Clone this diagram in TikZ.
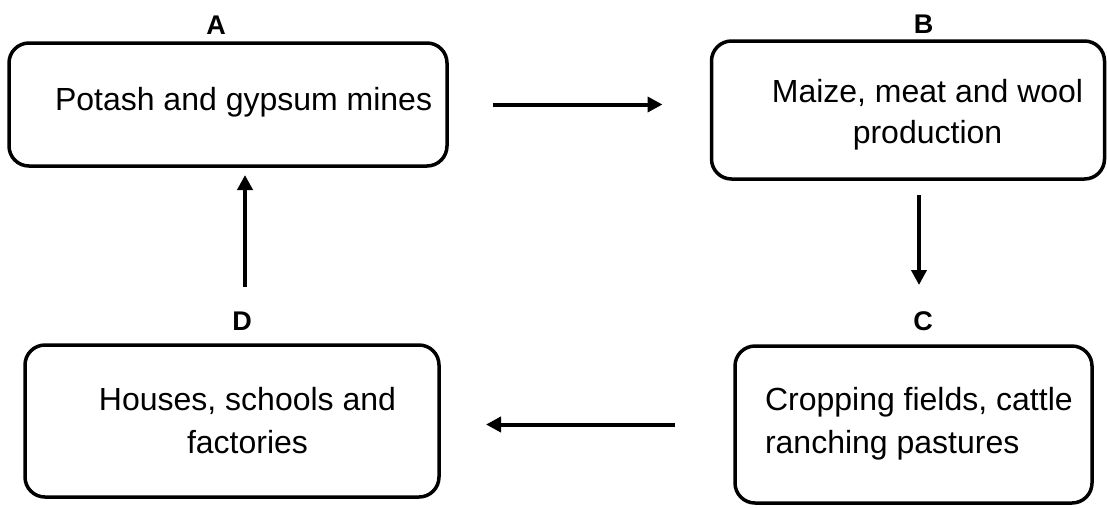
\documentclass[tikz,border=0pt]{standalone}
\usepackage{fontspec}
\setmainfont{Liberation Sans}
\usetikzlibrary{arrows.meta}
\tikzset{
  box/.style={draw=black, line width=3.5pt, rounded corners=20pt, inner sep=0pt, outer sep=0pt},
  txt/.style={inner sep=0pt, outer sep=0pt, font=\fontsize{32}{43}\selectfont},
  lbl/.style={inner sep=0pt, outer sep=0pt, anchor=base, font=\fontsize{27}{30}\selectfont\bfseries},
  arr/.style={line width=4pt, -{Triangle[length=15pt,width=15pt]}}
}
\begin{document}
\begin{tikzpicture}[x=1pt,y=-1pt]
\useasboundingbox (0,0) rectangle (1107,507);
% boxes
\node[box, minimum width=438pt, minimum height=123pt] (A) at (228,104.5) {};
\node[box, minimum width=393pt, minimum height=138pt] (B) at (908,110) {};
\node[box, minimum width=357pt, minimum height=157pt] (C) at (913.5,424.5) {};
\node[box, minimum width=414pt, minimum height=152pt] (D) at (232,421) {};
% labels
\node[lbl] (la) at (216,34) {A};
\node[lbl] (lb) at (923.5,33) {B};
\node[lbl] (lc) at (923,330) {C};
\node[lbl] (ld) at (242,330) {D};
% texts
\node[txt, anchor=base west] (ta) at (55,110) {Potash and gypsum mines};
\node[txt, anchor=base] (tb1) at (927.5,102) {Maize, meat and wool};
\node[txt, anchor=base] (tb2) at (927.5,143) {production};
\node[txt, anchor=base west] (tc1) at (765,410) {Cropping fields, cattle};
\node[txt, anchor=base west] (tc2) at (765,453) {ranching pastures};
\node[txt, anchor=base] (td1) at (247.5,410) {Houses, schools and};
\node[txt, anchor=base] (td2) at (247.5,453) {factories};
% connectors
\draw[arr, shorten <=46pt, shorten >=49pt] (A.east) -- (A.east -| B.west);
\draw[arr, shorten <=16pt, shorten >=61pt] ([xshift=11pt]B.south) -- ([xshift=11pt]B.south |- C.north);
\draw[arr, shorten <=60pt, shorten >=47pt] (C.west) -- (C.west -| D.east);
\draw[arr, shorten <=58pt, shorten >=9pt] ([xshift=13pt]D.north) -- ([xshift=13pt]D.north |- A.south);
\end{tikzpicture}
\end{document}
